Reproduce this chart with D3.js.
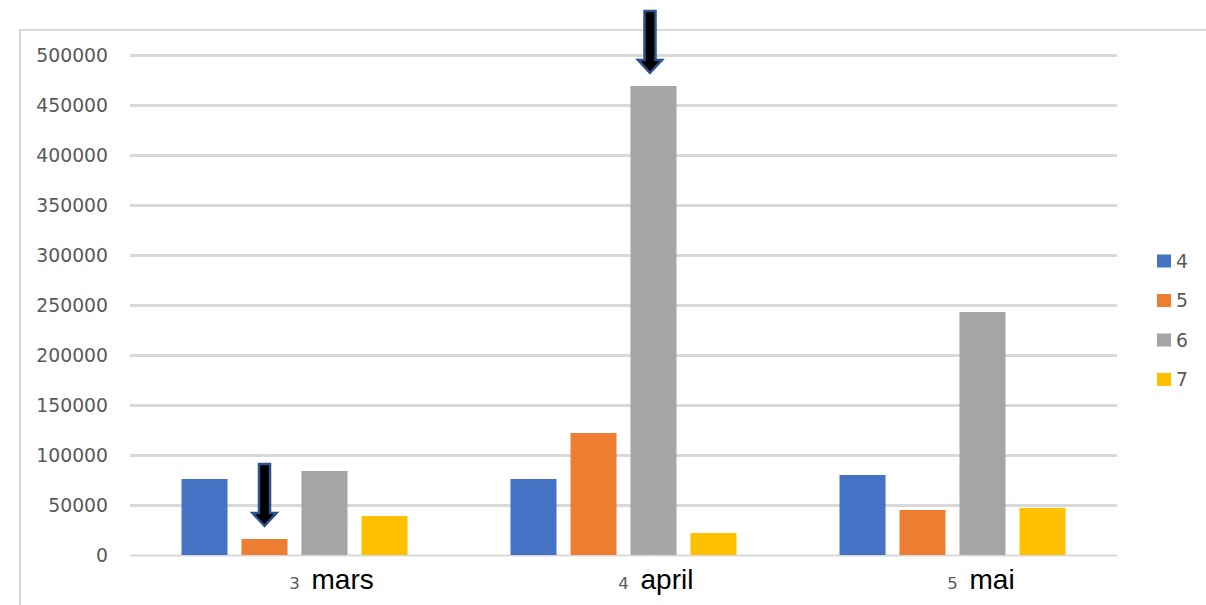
<!DOCTYPE html>
<html>
<head>
<meta charset="utf-8">
<script src="https://cdn.jsdelivr.net/npm/d3@7"></script>
<style>
  html, body { margin: 0; padding: 0; background: #fff; }
  svg { display: block; }
</style>
</head>
<body>
<svg id="chart" width="1206" height="605"></svg>
<script>
// ---- data ----
const categoryNumbers = ["3", "4", "5"];
const categoryNames = ["mars", "april", "mai"];
const seriesNames = ["4", "5", "6", "7"];
const series4 = [76000, 76000, 80000];
const series5 = [16000, 122000, 45000];
const series6 = [84000, 469000, 243000];
const series7 = [39000, 22000, 47000];
const yTicks = [0, 50000, 100000, 150000, 200000, 250000, 300000, 350000, 400000, 450000, 500000];
const seriesColors = ["#4472C4", "#ED7D31", "#A5A5A5", "#FFC000"];
// arrows point to: [categoryIndex, seriesIndex]
const arrowTargets = [[0, 1], [1, 2]];

const seriesValues = [series4, series5, series6, series7];

const svg = d3.select("#chart");

// frame
svg.append("path")
  .attr("d", "M20,605 L20,30 L1206,30")
  .attr("fill", "none")
  .attr("stroke", "#d9d9d9")
  .attr("stroke-width", 2);

const x0 = d3.scaleBand().domain(categoryNumbers).range([130, 1117]).padding(0);
const groupMargin = 51.5;
const x1 = d3.scaleBand().domain(seriesNames)
  .range([groupMargin, x0.bandwidth() - groupMargin])
  .paddingInner(0.233).paddingOuter(0);
const y = d3.scaleLinear().domain([0, 500000]).range([555, 55]);

// gridlines
const grid = svg.append("g")
  .attr("transform", "translate(130,0)")
  .call(d3.axisLeft(y).tickValues(yTicks).tickSize(-(1117 - 130)).tickFormat(""));
grid.select(".domain").remove();
grid.selectAll(".tick line")
  .attr("stroke", "#d9d9d9")
  .attr("stroke-width", d => d === 0 ? 2 : 3);

// y labels
svg.append("g").selectAll("text").data(yTicks).join("text")
  .attr("x", 108)
  .attr("y", d => y(d))
  .attr("dy", "0.36em")
  .attr("text-anchor", "end")
  .attr("font-family", "DejaVu Sans")
  .attr("font-size", 18.8)
  .attr("fill", "#595959")
  .text(d => d);

// bars
const groups = svg.append("g").selectAll("g").data(categoryNumbers).join("g")
  .attr("transform", d => `translate(${x0(d)},0)`);
groups.selectAll("rect")
  .data((d, i) => seriesNames.map((s, j) => ({ s, j, v: seriesValues[j][i] })))
  .join("rect")
  .attr("x", d => x1(d.s))
  .attr("width", x1.bandwidth())
  .attr("y", d => y(d.v))
  .attr("height", d => y(0) - y(d.v))
  .attr("fill", d => seriesColors[d.j]);

// x labels
const xl = svg.append("g");
categoryNumbers.forEach((c, i) => {
  const cx = x0(c) + x0.bandwidth() / 2;
  xl.append("text")
    .attr("x", cx).attr("y", 589)
    .attr("text-anchor", "middle")
    .attr("font-family", "DejaVu Sans")
    .attr("font-size", 16.5)
    .attr("fill", "#595959")
    .text(c);
  xl.append("text")
    .attr("x", cx + 17).attr("y", 589)
    .attr("font-family", "Liberation Sans")
    .attr("font-size", 28)
    .attr("fill", "#000")
    .text(categoryNames[i]);
});

// legend
const legend = svg.append("g").selectAll("g").data(seriesNames).join("g")
  .attr("transform", (d, i) => `translate(1157,${261 + i * 39.5})`);
legend.append("rect")
  .attr("x", 0).attr("y", -6.5).attr("width", 14).attr("height", 13)
  .attr("fill", (d, i) => seriesColors[i]);
legend.append("text")
  .attr("x", 19).attr("y", 0).attr("dy", "0.36em")
  .attr("font-family", "DejaVu Sans")
  .attr("font-size", 18.8)
  .attr("fill", "#595959")
  .text(d => d);

// arrows
const arrowLen = 62, gap = 13, shaftW = 11, headW = 24, headH = 13;
arrowTargets.forEach(([ci, si], k) => {
  const cx = x0(categoryNumbers[ci]) + x1(seriesNames[si]) + x1.bandwidth() / 2 + (k === 1 ? -3.5 : 0);
  const tip = y(seriesValues[si][ci]) - gap;
  const top = tip - arrowLen;
  const hb = tip - headH;
  const p = [
    [cx - shaftW / 2, top], [cx + shaftW / 2, top], [cx + shaftW / 2, hb],
    [cx + headW / 2, hb], [cx, tip], [cx - headW / 2, hb], [cx - shaftW / 2, hb]
  ];
  svg.append("path")
    .attr("d", d3.line()(p) + "Z")
    .attr("fill", "#000")
    .attr("stroke", "#2F528F")
    .attr("stroke-width", 2.5)
    .attr("stroke-linejoin", "miter");
});
</script>
</body>
</html>
